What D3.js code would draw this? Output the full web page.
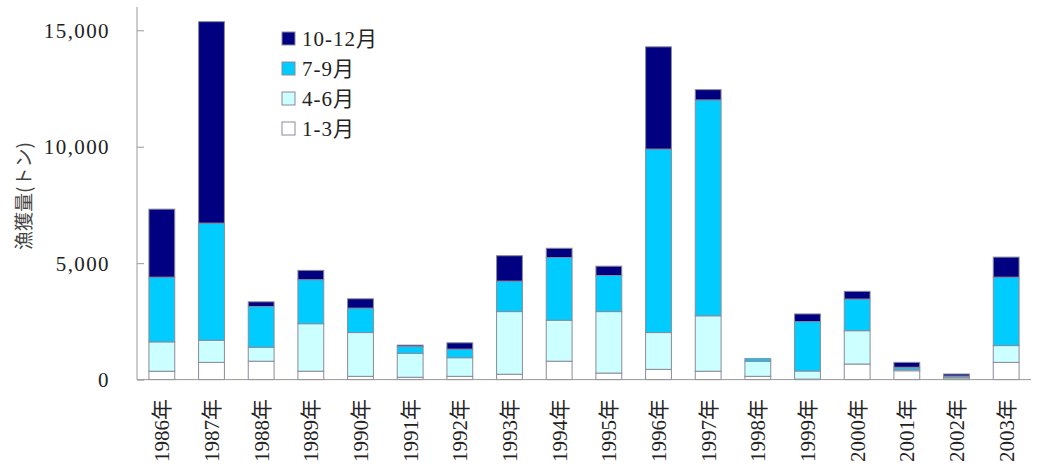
<!DOCTYPE html>
<html>
<head>
<meta charset="utf-8">
<script src="https://cdn.jsdelivr.net/npm/d3@7"></script>
<style>
  body { margin: 0; background: #fff; }
  text { fill: #222; }
</style>
</head>
<body>
<script>
// catch per quarter (tonnes)
var years = ["1986年","1987年","1988年","1989年","1990年","1991年","1992年","1993年","1994年",
             "1995年","1996年","1997年","1998年","1999年","2000年","2001年","2002年","2003年"];
var q1 = [360, 740, 790, 360, 140, 100, 140, 230, 790, 280, 440, 360, 140, 20, 670, 380, 30, 740];
var q2 = [1260, 950, 600, 2040, 1880, 1030, 800, 2690, 1760, 2640, 1580, 2380, 650, 350, 1430, 60, 70, 720];
var q3 = [2780, 5030, 1750, 1890, 1050, 290, 370, 1310, 2690, 1550, 7880, 9270, 110, 2120, 1360, 90, 55, 2940];
var q4 = [2920, 8650, 200, 400, 400, 60, 270, 1090, 400, 400, 4390, 440, 0, 330, 330, 210, 85, 860];
var seriesNames = ["1-3月", "4-6月", "7-9月", "10-12月"];
var seriesColors = ["#ffffff", "#ccffff", "#00ccff", "#000080"];
var yTicks = [0, 5000, 10000, 15000];

var width = 1037, height = 470;
var plotLeft = 137, plotRight = 1031, plotTop = 7, plotBottom = 379.6;

var table = years.map(function(y, i) {
  return {year: y, "1-3月": q1[i], "4-6月": q2[i], "7-9月": q3[i], "10-12月": q4[i]};
});
var stacked = d3.stack().keys(seriesNames)(table);

var svg = d3.select("body").append("svg")
  .attr("width", width)
  .attr("height", height);

var x = d3.scaleBand()
  .domain(years)
  .range([plotLeft, plotRight])
  .paddingInner(0.48)
  .paddingOuter(0.24);

var y = d3.scaleLinear()
  .domain([0, 16000])
  .range([plotBottom, plotTop]);

// bars
svg.selectAll("g.series")
  .data(stacked)
  .enter().append("g")
  .attr("class", "series")
  .attr("fill", function(d, i) { return seriesColors[i]; })
  .selectAll("rect")
  .data(function(d) { return d; })
  .enter().append("rect")
  .attr("x", function(d) { return x(d.data.year); })
  .attr("width", x.bandwidth())
  .attr("y", function(d) { return y(d[1]); })
  .attr("height", function(d) { return Math.max(0, y(d[0]) - y(d[1])); })
  .attr("stroke", "#8a8a9a")
  .attr("stroke-width", 1);

// y axis, ticks point into the plot
var yAxis = svg.append("g")
  .attr("transform", "translate(" + plotLeft + ",0)")
  .call(d3.axisRight(y).tickValues(yTicks).tickSize(7).tickFormat(""));
yAxis.select(".domain").remove();
yAxis.selectAll("line").attr("stroke", "#999");
svg.append("line")
  .attr("x1", plotLeft).attr("x2", plotLeft)
  .attr("y1", plotTop).attr("y2", plotBottom)
  .attr("stroke", "#999");

svg.selectAll("text.ytick")
  .data(yTicks)
  .enter().append("text")
  .attr("class", "ytick")
  .attr("x", 110)
  .attr("y", function(d) { return y(d); })
  .attr("dy", "0.36em")
  .attr("text-anchor", "end")
  .style("font-family", "'Liberation Serif', serif")
  .style("font-size", "21px")
  .style("letter-spacing", "1.4px")
  .text(d3.format(","));

// x axis
svg.append("line")
  .attr("x1", plotLeft).attr("x2", plotRight)
  .attr("y1", plotBottom).attr("y2", plotBottom)
  .attr("stroke", "#999");

svg.selectAll("text.xtick")
  .data(years)
  .enter().append("text")
  .attr("class", "xtick")
  .attr("transform", function(d) {
    return "translate(" + (x(d) + x.bandwidth() / 2) + ",399) rotate(-90)";
  })
  .attr("dy", "0.36em")
  .attr("text-anchor", "end")
  .style("font-family", "'Liberation Serif', 'Noto Sans CJK JP', serif")
  .style("font-size", "21px")
  .text(function(d) { return d; });

// y label
svg.append("text")
  .attr("transform", "translate(24,196) rotate(-90)")
  .attr("dy", "0.36em")
  .attr("text-anchor", "middle")
  .style("font-family", "'Noto Sans CJK JP', sans-serif")
  .style("font-size", "19px")
  .style("fill", "#444")
  .text("漁獲量(トン)");

// legend, top entry is 10-12月
var legendItems = seriesNames.slice().reverse();
var legendColors = seriesColors.slice().reverse();
var legend = svg.selectAll("g.legend")
  .data(legendItems)
  .enter().append("g")
  .attr("class", "legend")
  .attr("transform", function(d, i) { return "translate(282," + (38.5 + i * 30) + ")"; });

legend.append("rect")
  .attr("x", 0).attr("y", -6.5)
  .attr("width", 13).attr("height", 13)
  .attr("fill", function(d, i) { return legendColors[i]; })
  .attr("stroke", "#8a8a9a");

legend.append("text")
  .attr("x", 20)
  .attr("dy", "0.36em")
  .style("font-family", "'Liberation Serif', 'Noto Sans CJK JP', serif")
  .style("font-size", "21px")
  .style("letter-spacing", "1px")
  .text(function(d) { return d; });
</script>
</body>
</html>
